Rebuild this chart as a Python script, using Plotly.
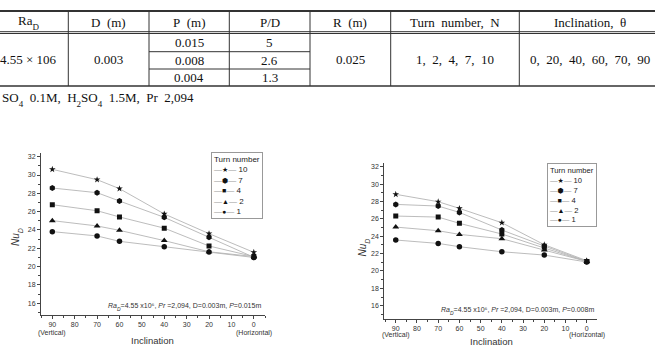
import plotly.graph_objects as go

W, H = 655, 359

SUB = "<span style='font-size:{s}px;baseline-shift:sub'>{t}</span>"

# ---------------- table data ----------------
table_headers = ["Ra" + SUB.format(s=9, t="D"), "D\u00a0\u00a0(m)", "P\u00a0\u00a0(m)", "P/D", "R\u00a0\u00a0(m)",
                 "Turn\u00a0\u00a0number,\u00a0\u00a0N", "Inclination,\u00a0\u00a0θ"]
ra_d_value = "4.55 × 106"
d_value = "0.003"
p_values = ["0.015", "0.008", "0.004"]
pd_values = ["5", "2.6", "1.3"]
r_value = "0.025"
turn_numbers = [1, 2, 4, 7, 10]
inclination_values = [0, 20, 40, 60, 70, 90]
note_text = ("SO" + SUB.format(s=9, t="4") + "\u00a0\u00a00.1M,\u00a0\u00a0H" + SUB.format(s=9, t="2") +
             "SO" + SUB.format(s=9, t="4") + "\u00a0\u00a01.5M,\u00a0\u00a0Pr\u00a0\u00a02,094")

# ---------------- chart data ----------------
inclination = [90, 70, 60, 40, 20, 0]
series_names = ["10", "7", "4", "2", "1"]
series_symbols = ["star", "hexagon", "square", "triangle-up", "circle"]
series_sizes = [5, 6, 5, 6, 5.5]
legend_glyphs = ["★", "⬢", "■", "▲", "●"]

left_n10 = [30.62, 29.49, 28.51, 25.75, 23.60, 21.56]
left_n7 = [28.58, 28.07, 27.16, 25.38, 23.20, 21.02]
left_n4 = [26.76, 26.10, 25.42, 24.20, 22.25, 21.10]
left_n2 = [25.02, 24.44, 23.96, 22.84, 21.62, 21.10]
left_n1 = [23.82, 23.35, 22.76, 22.18, 21.60, 21.00]

right_n10 = [28.82, 27.97, 27.20, 25.55, 23.02, 21.18]
right_n7 = [27.66, 27.47, 26.74, 24.71, 22.87, 21.10]
right_n4 = [26.32, 26.20, 25.48, 24.25, 22.64, 21.10]
right_n2 = [25.05, 24.63, 24.21, 23.71, 22.40, 21.10]
right_n1 = [23.56, 23.17, 22.79, 22.21, 21.83, 21.03]

left_series = [left_n10, left_n7, left_n4, left_n2, left_n1]
right_series = [right_n10, right_n7, right_n4, right_n2, right_n1]

x_ticks = [90, 80, 70, 60, 50, 40, 30, 20, 10, 0]
x_end_labels = {90: "(Vertical)", 0: "(Horizontal)"}
y_ticks = [16, 18, 20, 22, 24, 26, 28, 30, 32]

note_head = "<i>Ra</i>" + SUB.format(s=5, t="<i>D</i>") + "=4.55 x10⁶, <i>Pr</i> =2,094, D=0.003m, <i>P</i>="
left_note = note_head + "0.015m"
right_note = note_head + "0.008m"
nu_label = "<i>Nu</i>" + SUB.format(s=7, t="<i>D</i>")


def px(x):
    return x / W


def py(y):
    return 1 - y / H


fig = go.Figure()

SANS = "Liberation Sans, Arial, DejaVu Sans"
SERIF = "Liberation Serif, Times New Roman, serif"

for data, xa, ya in [(left_series, "x", "y"), (right_series, "x2", "y2")]:
    for i, vals in enumerate(data):
        fig.add_trace(go.Scatter(
            x=inclination, y=vals, xaxis=xa, yaxis=ya, mode="lines+markers",
            name=series_names[i], showlegend=False,
            line=dict(color="#b4b4b4", width=0.9),
            marker=dict(symbol=series_symbols[i], size=series_sizes[i], color="#111111",
                        line=dict(width=0)),
        ))

axis_common = dict(showgrid=False, zeroline=False, showline=True, linecolor="#444",
                   linewidth=1, ticks="outside", tickcolor="#444", tickwidth=1,
                   ticklen=3, tickangle=0, tickfont=dict(family=SANS, size=7, color="#333"))

L = dict(x0=41, x1=265, y0=153.3, y1=315)
R = dict(x0=384.3, x1=596.7, y0=162.7, y1=319)

fig.update_layout(
    width=W, height=H, margin=dict(l=0, r=0, t=0, b=0),
    paper_bgcolor="white", plot_bgcolor="white", showlegend=False,
    xaxis=dict(domain=[px(L["x0"]), px(L["x1"])], range=[95.05, -5.0], anchor="y",
               tickvals=x_ticks,
               minor=dict(dtick=5, ticks="outside", ticklen=2, tickcolor="#444"), **axis_common),
    yaxis=dict(domain=[py(L["y1"]), py(L["y0"])], range=[14.72, 32.37], anchor="x",
               tickvals=y_ticks,
               minor=dict(dtick=1, ticks="outside", ticklen=2, tickcolor="#444"), **axis_common),
    xaxis2=dict(domain=[px(R["x0"]), px(R["x1"])], range=[95.4, -4.7], anchor="y2",
                tickvals=x_ticks,
                minor=dict(dtick=5, ticks="outside", ticklen=2, tickcolor="#444"), **axis_common),
    yaxis2=dict(domain=[py(R["y1"]), py(R["y0"])], range=[14.47, 32.46], anchor="x2",
                tickvals=y_ticks,
                minor=dict(dtick=1, ticks="outside", ticklen=2, tickcolor="#444"), **axis_common),
)

annotations = []
shapes = []

# ---------------- table ----------------
col_edges = [-12, 68.3, 149, 229.3, 310, 390.7, 519.3, 662]
col_centers = [(col_edges[i] + col_edges[i + 1]) / 2 for i in range(len(col_edges) - 1)]
col_centers[0] = 28
col_centers[-1] = 590
y_top, y_head1, y_head2, y_r1, y_r2, y_bot = 11, 31.7, 33.5, 51.7, 69, 86
line_col = "#333"


def hline(y, x0, x1, w=1):
    shapes.append(dict(type="line", xref="paper", yref="paper", x0=px(x0), x1=px(x1),
                       y0=py(y), y1=py(y), line=dict(color=line_col, width=w)))


def vline(x, y0, y1, w=1):
    shapes.append(dict(type="line", xref="paper", yref="paper", x0=px(x), x1=px(x),
                       y0=py(y0), y1=py(y1), line=dict(color=line_col, width=w)))


hline(y_top, 0, W, 2)
hline(y_head1, 0, W, 1)
hline(y_head2, 0, W, 1)
hline(y_r1, col_edges[2], col_edges[4], 1)
hline(y_r2, col_edges[2], col_edges[4], 1)
hline(y_bot, 0, W, 1.5)
for xe in col_edges[1:-1]:
    vline(xe, y_top, y_bot, 1)


def text(x, y, s, size=13, family=SERIF, color="#111", xanchor="center", **kw):
    annotations.append(dict(xref="paper", yref="paper", x=px(x), y=py(y), text=s,
                            showarrow=False, xanchor=xanchor, yanchor="middle",
                            font=dict(family=family, size=size, color=color), **kw))


head_y = (y_top + y_head1) / 2 + 1
for c, h in zip(col_centers, table_headers):
    text(c, head_y, h)

row_centers = [(y_head2 + y_r1) / 2, (y_r1 + y_r2) / 2, (y_r2 + y_bot) / 2]
merged_y = (y_head2 + y_bot) / 2
text(col_centers[0], merged_y, ra_d_value)
text(col_centers[1], merged_y, d_value)
for rc, pv, pdv in zip(row_centers, p_values, pd_values):
    text(col_centers[2], rc, pv)
    text(col_centers[3], rc, pdv)
text(col_centers[4], merged_y, r_value)
text(col_centers[5], merged_y, ",\u00a0\u00a0".join(str(v) for v in turn_numbers))
text(col_centers[6], merged_y, ",\u00a0\u00a0".join(str(v) for v in inclination_values))

text(0, 99, note_text, xanchor="left")

# ---------------- chart texts ----------------
text(17, 237, nu_label, size=10, family=SANS, color="#333", textangle=-90)
text(363.5, 248, nu_label, size=10, family=SANS, color="#333", textangle=-90)
text(152, 340, "Inclination", size=9.5, family=SANS, color="#333")
text(491, 341, "Inclination", size=9.5, family=SANS, color="#333")
text(263, 306.7, left_note, size=7, family=SANS, color="#333", xanchor="right")
text(595.7, 310.7, right_note, size=7, family=SANS, color="#333", xanchor="right")

# "(Vertical)" / "(Horizontal)" under the end ticks, placed on the data axis
for xa, ylab in [("x", 333.3), ("x2", 334.5)]:
    for val, lab in x_end_labels.items():
        annotations.append(dict(xref=xa, yref="paper", x=val, y=py(ylab), text=lab,
                                showarrow=False, xanchor="center", yanchor="middle",
                                font=dict(family=SANS, size=7, color="#333")))

# legends (as framed text boxes): gray dashes as base colour, glyph + number in dark spans
for (lx, ly, fs) in [(211, 151.7, 8), (546.7, 162.7, 7.6)]:
    leg_lines = [f"<span style='color:#222'>Turn number</span>"] + [
        f"—<span style='color:#111;font-size:7px'>{g}</span>—"
        f"<span style='color:#222'> {n}</span>"
        for g, n in zip(legend_glyphs, series_names)]
    annotations.append(dict(xref="paper", yref="paper", x=px(lx), y=py(ly),
                            text="<br>".join(leg_lines),
                            showarrow=False, xanchor="left", yanchor="top", align="left",
                            font=dict(family=SANS, size=fs, color="#999"),
                            bordercolor="#999", borderwidth=1, borderpad=2, bgcolor="white"))

fig.update_layout(annotations=annotations, shapes=shapes)
fig.write_html("out.html")
